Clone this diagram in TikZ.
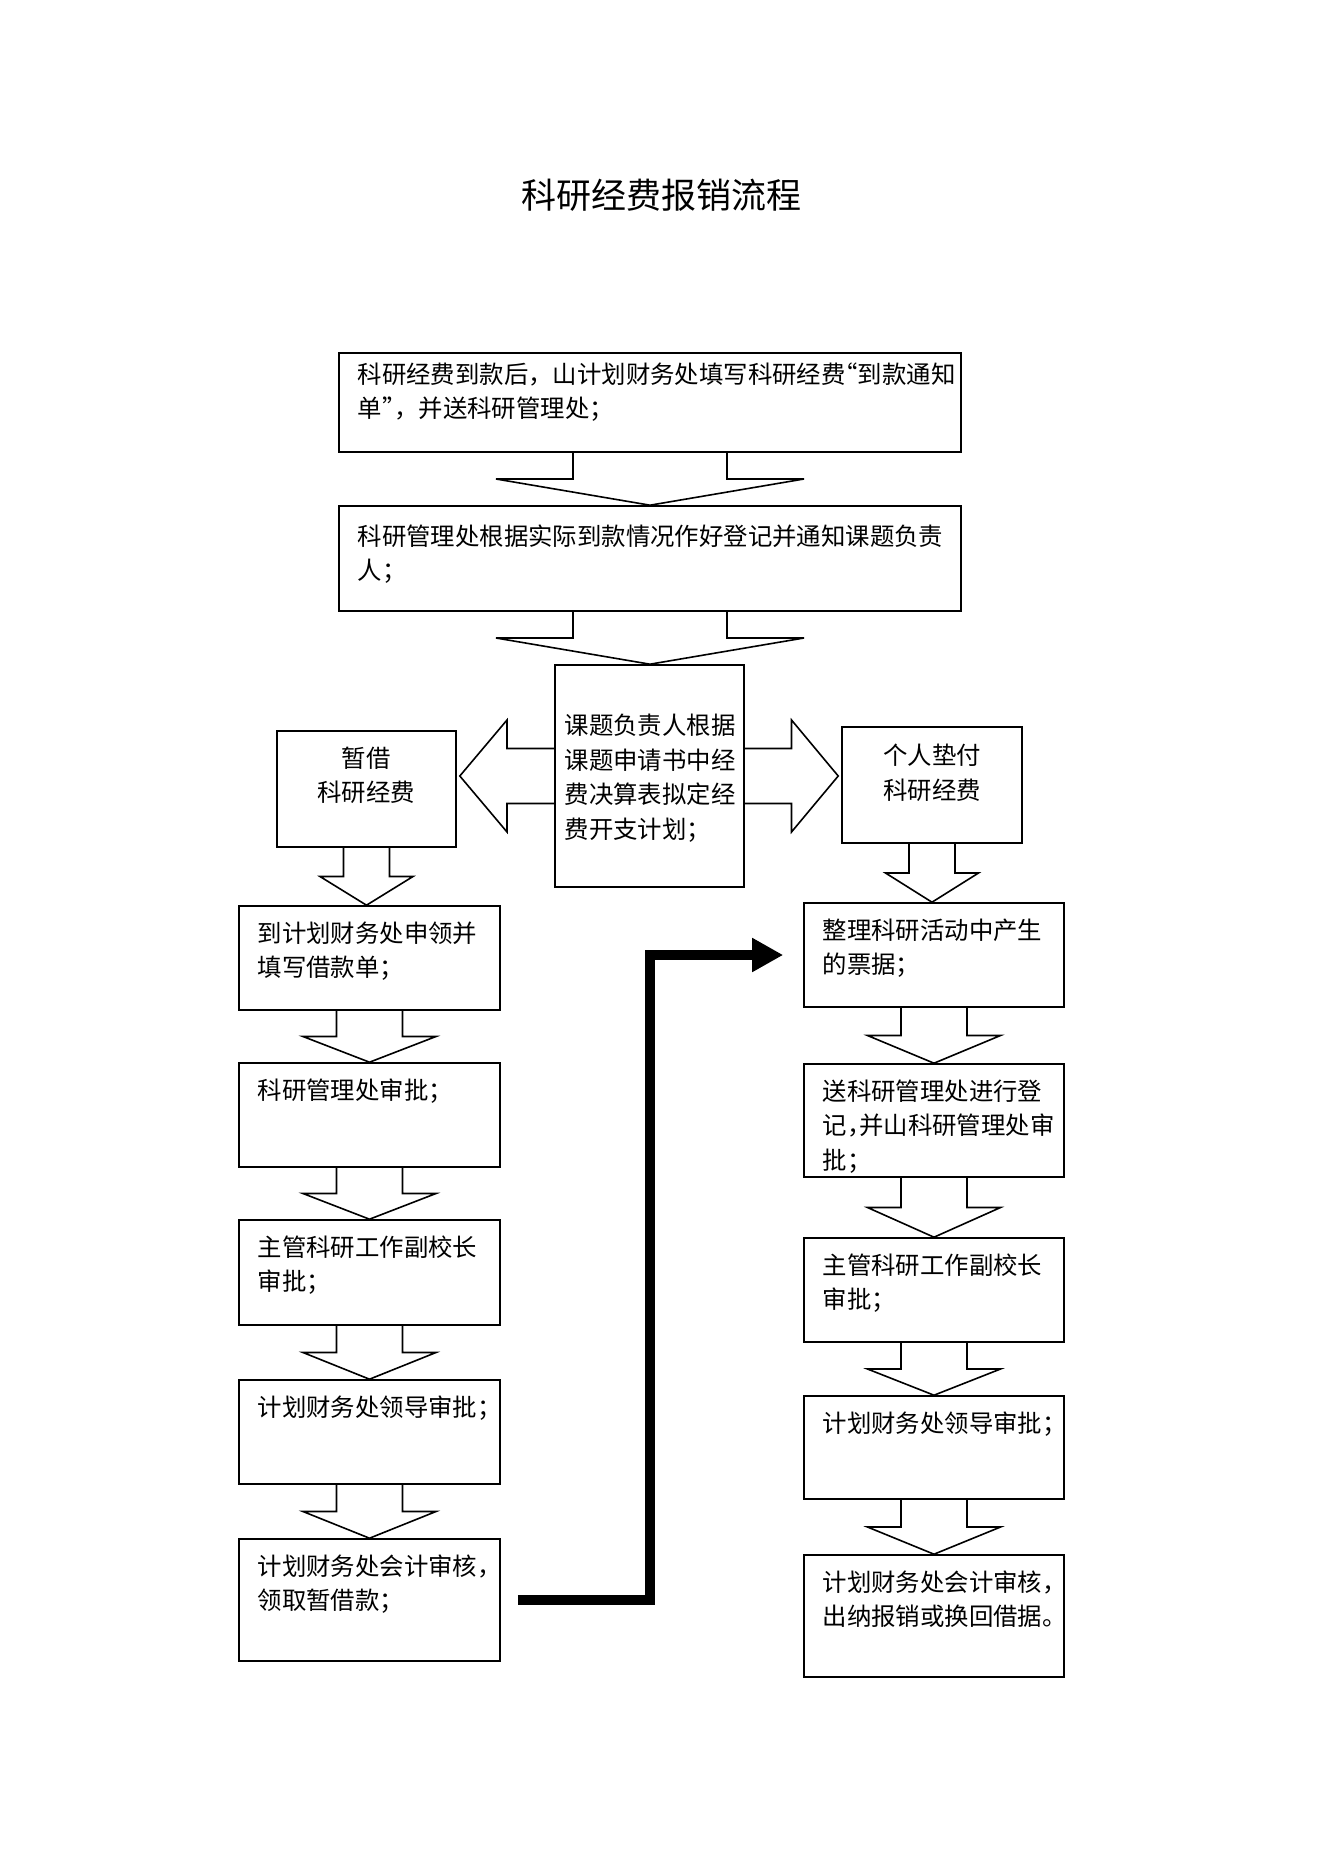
\documentclass[tikz,border=0pt]{standalone}
\usepackage{fontspec}
\setmainfont{Noto Sans CJK SC}
\usepackage{tikz}
\usetikzlibrary{calc,positioning,arrows.meta}

\newcommand{\varrow}[4]{%
  \draw[blk] let \p1=(#1.south), \p2=(#2.north) in
    (\x1-#3,\y1) -- (\x1-#3,{(\y1+\y2)/2}) -- (\x1-#4,{(\y1+\y2)/2}) -- (\x1,\y2)
    -- (\x1+#4,{(\y1+\y2)/2}) -- (\x1+#3,{(\y1+\y2)/2}) -- (\x1+#3,\y1);}
\newcommand{\harrow}[4]{%
  \draw[blk] let \p1=(#1), \p2=(#2) in
    (\x1,\y1+#3) -- ({(\x1+\x2)/2},\y1+#3) -- ({(\x1+\x2)/2},\y1+#4) -- (\x2,\y1)
    -- ({(\x1+\x2)/2},\y1-#4) -- ({(\x1+\x2)/2},\y1-#3) -- (\x1,\y1-#3);}
\newcommand{\halfr}[1]{\makebox[0.5em][r]{#1}}
\newcommand{\halfl}[1]{\makebox[0.5em][l]{#1}}

\begin{document}
\begin{tikzpicture}[x=0.5pt,y=-0.5pt]
  \tikzstyle{stage}=[draw,line width=0.8pt,inner sep=0pt]
  \tikzstyle{lbox}=[stage,minimum width=130.5pt]
  \tikzstyle{rbox}=[stage,minimum width=130pt]
  \tikzstyle{txt}=[inner sep=0pt,align=left,font=\fontsize{12.2pt}{17.25pt}\selectfont]
  \tikzstyle{blk}=[line width=0.8pt,line join=miter]
  \tikzstyle{jump}=[line width=5pt,-{Triangle[length=15.5pt 0 0,width=16pt 0 0]}]
  \useasboundingbox (0,0) rectangle (1322,1871);

  \node[inner sep=0pt,font=\fontsize{17.5pt}{20pt}\selectfont] (title) at (661,195) {科研经费报销流程};

  \node[stage,minimum width=311pt,minimum height=49.5pt] (top1) at (650,402.5) {};
  \node[txt,below right=5pt and 9.5pt of top1.north west] (t1) {科研经费到款后，山计划财务处填写科研经费\halfr{“}到款通知\\单\halfl{”}，并送科研管理处；};
  \node[stage,minimum width=311pt,minimum height=52.5pt] (top2) at (650,558.5) {};
  \node[txt,below right=9.5pt and 9.5pt of top2.north west] (t2) {科研管理处根据实际到款情况作好登记并通知课题负责\\人；};
  \node[stage,minimum width=94.5pt,minimum height=111pt] (ctr) at (649.5,776) {};
  \node[txt] (tc) at (650,778) {课题负责人根据\\课题申请书中经\\费决算表拟定经\\费开支计划；};

  \node[stage,minimum width=89.5pt,minimum height=58pt] (jie) at (366.5,789) {};
  \node[txt,align=center] (tj) at (366,775) {暂借\\科研经费};
  \node[stage,minimum width=90pt,minimum height=58pt] (dian) at (932,785) {};
  \node[txt,align=center] (td) at (932,773) {个人垫付\\科研经费};

  \node[lbox,minimum height=52pt] (L1) at (369.5,958) {};
  \node[txt,below right=8pt and 9.5pt of L1.north west] (tL1) {到计划财务处申领并\\填写借款单；};
  \node[lbox,minimum height=52pt] (L2) at (369.5,1115) {};
  \node[txt,below right=8pt and 9.5pt of L2.north west] (tL2) {科研管理处审批；};
  \node[lbox,minimum height=52.5pt] (L3) at (369.5,1272.5) {};
  \node[txt,below right=8pt and 9.5pt of L3.north west] (tL3) {主管科研工作副校长\\审批；};
  \node[lbox,minimum height=52pt] (L4) at (369.5,1432) {};
  \node[txt,below right=8pt and 9.5pt of L4.north west] (tL4) {计划财务处领导审批；};
  \node[lbox,minimum height=61pt] (L5) at (369.5,1600) {};
  \node[txt,below right=8pt and 9.5pt of L5.north west] (tL5) {计划财务处会计审核，\\领取暂借款；};

  \node[rbox,minimum height=52pt] (R1) at (934,955) {};
  \node[txt,below right=8pt and 9.5pt of R1.north west] (tR1) {整理科研活动中产生\\的票据；};
  \node[rbox,minimum height=56.5pt] (R2) at (934,1120.5) {};
  \node[txt,below right=8pt and 9.5pt of R2.north west] (tR2) {送科研管理处进行登\\记\halfl{，}并山科研管理处审\\批；};
  \node[rbox,minimum height=52pt] (R3) at (934,1290) {};
  \node[txt,below right=8pt and 9.5pt of R3.north west] (tR3) {主管科研工作副校长\\审批；};
  \node[rbox,minimum height=51.5pt] (R4) at (934,1447.5) {};
  \node[txt,below right=8pt and 9.5pt of R4.north west] (tR4) {计划财务处领导审批；};
  \node[rbox,minimum height=61pt] (R5) at (934,1616) {};
  \node[txt,below right=8pt and 9.5pt of R5.north west] (tR5) {计划财务处会计审核，\\出纳报销或换回借据。};

  \coordinate (tipL) at ($(jie.east |- ctr.center)+(1.5pt,0)$);
  \coordinate (tipR) at ($(dian.west |- ctr.center)+(-1.5pt,0)$);

  \varrow{top1}{top2}{38.5pt}{77pt}
  \varrow{top2}{ctr}{38.5pt}{77pt}
  \harrow{ctr.west}{tipL}{13.75pt}{28pt}
  \harrow{ctr.east}{tipR}{13.75pt}{28pt}
  \varrow{jie}{L1}{11.5pt}{23.25pt}
  \varrow{dian}{R1}{11.5pt}{23.25pt}
  \varrow{L1}{L2}{16.5pt}{33.25pt}
  \varrow{L2}{L3}{16.5pt}{33.25pt}
  \varrow{L3}{L4}{16.5pt}{33.25pt}
  \varrow{L4}{L5}{16.5pt}{33.25pt}
  \varrow{R1}{R2}{16.5pt}{33.25pt}
  \varrow{R2}{R3}{16.5pt}{33.25pt}
  \varrow{R3}{R4}{16.5pt}{33.25pt}
  \varrow{R4}{R5}{16.5pt}{33.25pt}

  \draw[jump] ([xshift=8.5pt]L5.east) -| ([xshift=-76.5pt]R1.west) -- ([xshift=-10pt]R1.west);
\end{tikzpicture}
\end{document}
